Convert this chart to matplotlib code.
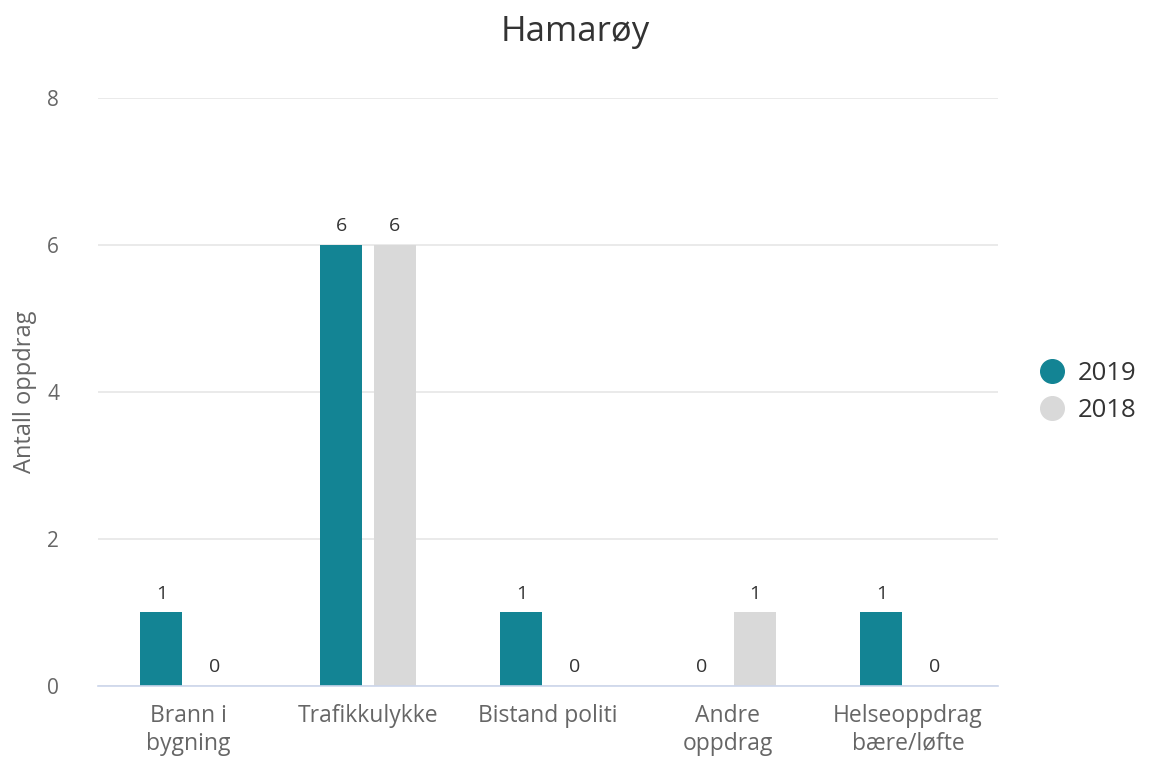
import numpy as np
import matplotlib.pyplot as plt
from matplotlib.lines import Line2D

plt.rcParams['font.family'] = ['Open Sans', 'DejaVu Sans']

categories = ["Brann i\nbygning", "Trafikkulykke", "Bistand politi", "Andre\noppdrag", "Helseoppdrag\nbære/løfte"]
v2019 = [1, 6, 1, 0, 1]
v2018 = [0, 6, 0, 1, 0]
yticks = [0, 2, 4, 6, 8]

teal = "#138494"
grey = "#d9d9d9"

fig = plt.figure(figsize=(11.5, 7.58), dpi=100)
ax = fig.add_axes([0.0852, 0.095, 0.7826, 0.7757])

x = np.arange(len(categories))
w = 0.233
b1 = ax.bar(x - 0.148, v2019, w, color=teal, zorder=3)
b2 = ax.bar(x + 0.148, v2018, w, color=grey, zorder=3)

for bars in (b1, b2):
    for r in bars:
        ax.annotate(str(int(r.get_height())), (r.get_x() + r.get_width() / 2, r.get_height()),
                    xytext=(0, 7), textcoords="offset points", ha="center", va="bottom",
                    fontsize=14, color="#333333")

ax.set_xlim(-0.5, len(categories) - 0.5)
ax.set_ylim(0, 8)
ax.set_yticks(yticks)
ax.set_xticks(x)
ax.set_xticklabels(categories, fontsize=16.5, color="#666666", linespacing=1.2)
ax.tick_params(axis="y", length=0, labelsize=15, labelcolor="#666666", pad=28)
ax.tick_params(axis="x", length=0, pad=13)
ax.grid(axis="y", color="#e6e6e6", linewidth=1.2, zorder=0)
for s in ["top", "right", "left"]:
    ax.spines[s].set_visible(False)
ax.spines["bottom"].set_color("#ccd6eb")
ax.spines["bottom"].set_linewidth(1.2)
ax.spines["bottom"].set_zorder(4)

ax.set_ylabel("Antall oppdrag", fontsize=17, color="#666666", labelpad=7)
fig.suptitle("Hamarøy", fontsize=25, color="#333333", y=0.98)

handles = [Line2D([], [], marker="o", linestyle="", markersize=17, color=teal),
           Line2D([], [], marker="o", linestyle="", markersize=17, color=grey)]
ax.legend(handles, ["2019", "2018"], loc="center left", bbox_to_anchor=(1.02, 0.5),
          frameon=False, fontsize=18.5, handlelength=1.0, handletextpad=0.5,
          labelspacing=0.5, labelcolor="#333333")

fig.savefig("out.png", dpi=100)
